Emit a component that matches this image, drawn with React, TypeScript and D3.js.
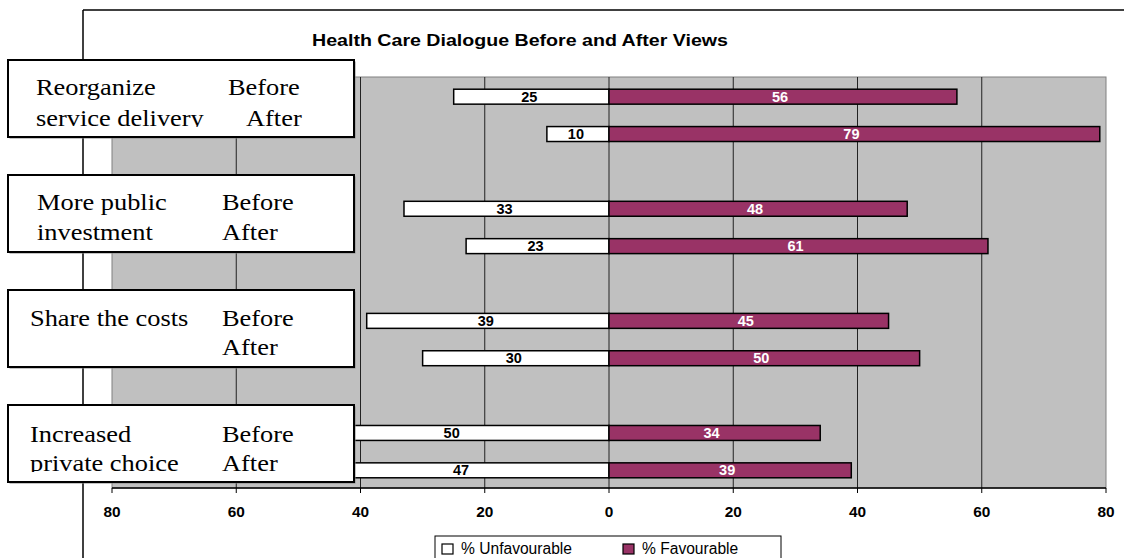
import React from "react";
import * as d3 from "d3";

const title = "Health Care Dialogue Before and After Views";
const groups = ["Reorganize service delivery", "More public investment", "Share the costs", "Increased private choice"];
const periods = ["Before", "After"];
const unfavourable = [25, 10, 33, 23, 39, 30, 50, 47];
const favourable = [56, 79, 48, 61, 45, 50, 34, 39];
const tickValues = [-80, -60, -40, -20, 0, 20, 40, 60, 80];
const legendLabels = ["% Unfavourable", "% Favourable"];
const boxLines = [
  ["Reorganize", "service delivery"],
  ["More public", "investment"],
  ["Share the costs", ""],
  ["Increased", "private choice"],
];

const W = 1124;
const H = 558;
const plot = { left: 112, right: 1106, top: 77, bottom: 488 };
const FAV = "#993366";
const SANS = "'Liberation Sans', Arial, sans-serif";
const SERIF = "'Liberation Serif', 'Times New Roman', serif";

type Row = { key: string; group: number; period: string; unfav: number; fav: number };

export default function App() {
  const rows: Row[] = [];
  const domain: string[] = [];
  groups.forEach((g, gi) => {
    periods.forEach((p, pi) => {
      const k = `${g}|${p}`;
      rows.push({ key: k, group: gi, period: p, unfav: unfavourable[gi * 2 + pi], fav: favourable[gi * 2 + pi] });
      domain.push(k);
    });
    if (gi < groups.length - 1) domain.push(`gap${gi}`);
  });

  const x = d3.scaleLinear().domain([-80, 80]).range([plot.left, plot.right]);
  const y = d3.scaleBand<string>().domain(domain).range([plot.top + 1, plot.bottom + 1]).paddingInner(0.6).paddingOuter(0.3);
  const bh = y.bandwidth();

  const boxes = [
    { x: 8, y: 60, w: 346, h: 77, tx: 36, px: [228, 246], b1: 95, b2: 126, clip: 127 },
    { x: 8, y: 175, w: 346, h: 77, tx: 37, px: [222, 222], b1: 210, b2: 240, clip: 260 },
    { x: 8, y: 290, w: 346, h: 77, tx: 30, px: [222, 222], b1: 326, b2: 355, clip: 380 },
    { x: 8, y: 405, w: 346, h: 77, tx: 30, px: [222, 222], b1: 442, b2: 471, clip: 472 },
  ];

  return (
    <svg width={W} height={H} style={{ position: "absolute", left: 0, top: 0, background: "#fff" }}>
      <defs>
        {boxes.map((b, i) => (
          <clipPath id={`clip${i}`} key={i}>
            <rect x={b.x} y={b.y} width={b.w} height={b.clip - b.y} />
          </clipPath>
        ))}
      </defs>
      <rect x={0} y={0} width={W} height={H} fill="#fff" />
      {/* outer chart frame */}
      <line x1={83} y1={10} x2={W + 2} y2={10} stroke="#000" strokeWidth={1.5} />
      <line x1={83} y1={10} x2={83} y2={H + 2} stroke="#000" strokeWidth={1.5} />

      <text x={312} y={46} fontFamily={SANS} fontWeight="bold" fontSize={16} textLength={416} lengthAdjust="spacingAndGlyphs">{title}</text>

      {/* plot area */}
      <rect x={plot.left} y={plot.top} width={plot.right - plot.left} height={plot.bottom - plot.top} fill="#C0C0C0" stroke="#808080" strokeWidth={1} />
      {tickValues.slice(1, -1).map((t) => (
        <line key={t} x1={x(t)} x2={x(t)} y1={plot.top} y2={plot.bottom} stroke="#222" strokeWidth={1} />
      ))}
      {/* axis */}
      <line x1={plot.left} x2={plot.right} y1={plot.bottom} y2={plot.bottom} stroke="#000" strokeWidth={1.5} />
      {tickValues.map((t) => (
        <g key={`t${t}`}>
          <line x1={x(t)} x2={x(t)} y1={plot.bottom} y2={plot.bottom + 5} stroke="#000" strokeWidth={1} />
          <text transform={`translate(${x(t)},517) scale(1.1,1)`} textAnchor="middle" fontFamily={SANS} fontWeight="bold" fontSize={14}>{Math.abs(t)}</text>
        </g>
      ))}

      {/* bars */}
      {rows.map((r) => {
        const yy = y(r.key)!;
        return (
          <g key={r.key}>
            <rect x={x(-r.unfav)} y={yy} width={x(0) - x(-r.unfav)} height={bh} fill="#fff" stroke="#000" strokeWidth={1.5} />
            <rect x={x(0)} y={yy} width={x(r.fav) - x(0)} height={bh} fill={FAV} stroke="#000" strokeWidth={1.5} />
            <text x={(x(-r.unfav) + x(0)) / 2 - 2} y={yy + bh / 2 + 5} textAnchor="middle" fontFamily={SANS} fontWeight="bold" fontSize={14.5} fill="#000">{r.unfav}</text>
            <text x={(x(r.fav) + x(0)) / 2 - 3} y={yy + bh / 2 + 5} textAnchor="middle" fontFamily={SANS} fontWeight="bold" fontSize={14.5} fill="#fff">{r.fav}</text>
          </g>
        );
      })}

      {/* category boxes */}
      {boxes.map((b, i) => (
        <g key={`box${i}`}>
          <rect x={b.x + 1.5} y={b.y + 1.5} width={b.w} height={b.h} fill="#888" />
          <rect x={b.x} y={b.y} width={b.w} height={b.h} fill="#fff" stroke="#000" strokeWidth={2} />
          <g clipPath={`url(#clip${i})`} fontFamily={SERIF} fontSize={24}>
            <text transform={`translate(${b.tx},${b.b1}) scale(1.1,1)`}>{boxLines[i][0]}</text>
            <text transform={`translate(${b.px[0]},${b.b1}) scale(1.1,1)`}>{periods[0]}</text>
            {boxLines[i][1] && <text transform={`translate(${b.tx},${b.b2}) scale(1.1,1)`}>{boxLines[i][1]}</text>}
            <text transform={`translate(${b.px[1]},${b.b2}) scale(1.1,1)`}>{periods[1]}</text>
          </g>
        </g>
      ))}

      {/* legend */}
      <rect x={435} y={536} width={346} height={40} fill="#fff" stroke="#000" strokeWidth={1} />
      <rect x={442} y={544} width={11} height={10} fill="#fff" stroke="#000" strokeWidth={1.2} />
      <text x={461} y={554} fontFamily={SANS} fontSize={15.6}>{legendLabels[0]}</text>
      <rect x={623} y={544} width={11} height={10} fill={FAV} stroke="#000" strokeWidth={1.2} />
      <text x={642} y={554} fontFamily={SANS} fontSize={15.6}>{legendLabels[1]}</text>
    </svg>
  );
}
